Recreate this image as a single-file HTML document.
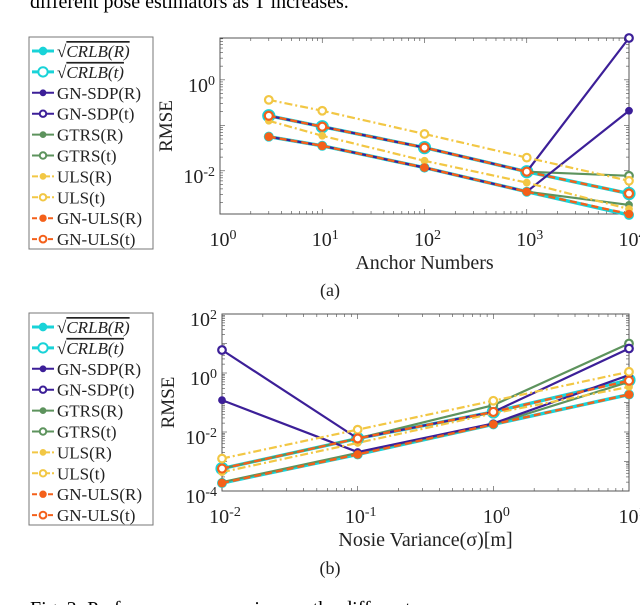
<!DOCTYPE html>
<html><head><meta charset="utf-8"><style>
body{margin:0;background:#fff;width:640px;height:605px;overflow:hidden;}
svg{display:block;font-family:"Liberation Serif",serif;}
</style></head><body>
<svg id="s" width="640" height="605" viewBox="0 0 640 605">
<text x="30" y="8" font-size="20">different pose estimators as T increases.</text>
<text x="30" y="615" font-size="20">Fig. 3: Performance comparison ... the different</text>
</svg>
<script>
const names = ["CRLB(R)","CRLB(t)","GN-SDP(R)","GN-SDP(t)","GTRS(R)","GTRS(t)","ULS(R)","ULS(t)","GN-ULS(R)","GN-ULS(t)"];
const xA = [3,10,100,1000,10000];
// exponents (log10 RMSE) for chart (a)
const aCRLBR=[-1.25,-1.45,-1.93,-2.46,-2.97];
const aCRLBt=[-0.79,-1.03,-1.49,-2.02,-2.50];
const aSDPR=[-1.25,-1.45,-1.93,-2.46,-0.68];
const aSDPt=[-0.79,-1.03,-1.49,-2.02,0.92];
const aGTRSR=[-1.25,-1.45,-1.93,-2.46,-2.75];
const aGTRSt=[-0.79,-1.03,-1.49,-2.02,-2.11];
const aULSR=[-0.90,-1.23,-1.78,-2.26,-2.84];
const aULSt=[-0.44,-0.68,-1.19,-1.71,-2.22];
const aGNULSR=[-1.25,-1.45,-1.93,-2.46,-2.95];
const aGNULSt=[-0.79,-1.03,-1.49,-2.02,-2.50];
const xB=[0.01,0.1,1,10];
const bCRLBR=[-3.73,-2.76,-1.74,-0.73];
const bCRLBt=[-3.24,-2.22,-1.32,-0.24];
const bSDPR=[-0.92,-2.68,-1.71,-0.07];
const bSDPt=[0.78,-2.22,-1.32,0.83];
const bGTRSR=[-3.70,-2.71,-1.74,-0.30];
const bGTRSt=[-3.24,-2.22,-1.09,1.0];
const bULSR=[-3.36,-2.37,-1.37,-0.47];
const bULSt=[-2.90,-1.92,-0.94,0.04];
const bGNULSR=[-3.73,-2.76,-1.74,-0.73];
const bGNULSt=[-3.24,-2.22,-1.32,-0.26];
const xTicksA=["0","1","2","3","4"];
const yTicksA=["-2","0"];
const xTicksB=["-2","-1","0","1"];
const yTicksB=["-4","-2","0","2"];

const NS="http://www.w3.org/2000/svg";
const svg=document.getElementById('s');
function el(t,a,p){const e=document.createElementNS(NS,t);for(const k in a)e.setAttribute(k,a[k]);(p||svg).appendChild(e);return e;}
const C={cy:"#19d3d8",pu:"#3c1f98",gr:"#5d935d",ye:"#f2c744",or:"#f4601a"};
const styles=[
 {c:C.cy,w:3.4,d:"",f:true,r:4.5},{c:C.cy,w:3.4,d:"",f:false,r:5.5},
 {c:C.pu,w:2.2,d:"",f:true,r:3.4},{c:C.pu,w:2.2,d:"",f:false,r:3.8},
 {c:C.gr,w:2.2,d:"",f:true,r:3.4},{c:C.gr,w:2.2,d:"",f:false,r:3.8},
 {c:C.ye,w:2.2,d:"8,3,2,3",f:true,r:3.4},{c:C.ye,w:2.2,d:"8,3,2,3",f:false,r:3.8},
 {c:C.or,w:2.4,d:"7,4",f:true,r:3.8},{c:C.or,w:2.4,d:"7,4",f:false,r:4}];
const order=[0,1,4,5,2,3,6,7,8,9];

function sup(g,x,y,base,exp,anchor,fs){
 const t=el('text',{x:x,y:y,'font-size':fs,'text-anchor':anchor,fill:'#222'},g);
 t.textContent=base;
 const ts=el('tspan',{dy:-7,'font-size':fs*0.7},t);ts.textContent=exp;
 return t;}

function chart(cfg){
 const g=el('g',{});
 
 
 const X=v=>cfg.x0+(Math.log10(v)-cfg.xmin)/(cfg.xmax-cfg.xmin)*(cfg.x1-cfg.x0);
 const Y=e=>cfg.y1-(e-cfg.ymin)/(cfg.ymax-cfg.ymin)*(cfg.y1-cfg.y0);
 for(let d=Math.floor(cfg.xmin);d<cfg.xmax;d++)for(let m=1;m<10;m++){const lx=d+Math.log10(m);if(lx<cfg.xmin||lx>cfg.xmax)continue;const px=X(Math.pow(10,lx));const L=m==1?5:3;
  el('line',{x1:px,x2:px,y1:cfg.y1,y2:cfg.y1-L,stroke:'#444','stroke-width':0.6},g);el('line',{x1:px,x2:px,y1:cfg.y0,y2:cfg.y0+L,stroke:'#444','stroke-width':0.6},g);}
 for(let d=Math.floor(cfg.ymin);d<cfg.ymax;d++)for(let m=1;m<10;m++){const ly=d+Math.log10(m);if(ly<cfg.ymin||ly>cfg.ymax)continue;const py=Y(ly);const L=m==1?5:3;
  el('line',{x1:cfg.x0,x2:cfg.x0+L,y1:py,y2:py,stroke:'#444','stroke-width':0.6},g);el('line',{x1:cfg.x1,x2:cfg.x1-L,y1:py,y2:py,stroke:'#444','stroke-width':0.6},g);}
 const fr=el('rect',{x:cfg.x0,y:cfg.y0,width:cfg.x1-cfg.x0,height:cfg.y1-cfg.y0,fill:'none',stroke:'#555','stroke-width':1},g);
 
 cfg.xt.forEach(e=>{const t=sup(g,X(Math.pow(10,+e))+3,cfg.y1+32,"10",e,'middle',20);
  });
 cfg.yt.forEach(e=>{const t=sup(g,cfg.x0-5,Y(+e)+12,"10",e,'end',20);
  });
 const xl=el('text',{x:(cfg.x0+cfg.x1)/2,y:cfg.y1+55,'font-size':20,'text-anchor':'middle',fill:'#222'},g);xl.textContent=cfg.xlabel;
 
 const yl=el('text',{x:0,y:0,'font-size':19,'text-anchor':'middle',fill:'#222',transform:`translate(${cfg.x0-48},${(cfg.y0+cfg.y1)/2}) rotate(-90)`},g);yl.textContent="RMSE";
 
 const cp=el('text',{x:330,y:cfg.capY,'font-size':18,'text-anchor':'middle',fill:'#222'},g);cp.textContent=cfg.cap;
 
 order.forEach(i=>{const s=styles[i];const ys=cfg.series[i];
  const pts=ys.map((e,k)=>X(cfg.xs[k])+','+Y(e)).join(' ');
  const pl=el('polyline',{points:pts,fill:'none',stroke:s.c,'stroke-width':s.w,'stroke-dasharray':s.d},g);
  
  
  ys.forEach((e,k)=>{const c=el('circle',{cx:X(cfg.xs[k]),cy:Y(e),r:s.r,fill:s.f?s.c:'#fff',stroke:s.c,'stroke-width':s.f?1:2.2},g);
   });});
 const lg=el('g',{},svg);
 
 el('rect',{x:29,y:cfg.ly,width:124,height:212,fill:'#fff',stroke:'#777','stroke-width':1},lg);
 names.forEach((n,i)=>{const s=styles[i];const y=cfg.ly+14+i*20.9;
  const e=el('g',{},lg);
  el('line',{x1:32,x2:54,y1:y,y2:y,stroke:s.c,'stroke-width':s.w>3?3:2,'stroke-dasharray':s.d?(s.d=="7,4"?"5,3":"6,2,2,2"):""},e);
  el('circle',{cx:43,cy:y,r:s.r*0.85,fill:s.f?s.c:'#fff',stroke:s.c,'stroke-width':s.f?1:2},e);
  const t=el('text',{x:57,y:y+6,'font-size':17,fill:'#222'},e);
  if(i<2){t.textContent="\u221A";const it=el('tspan',{'font-style':'italic','text-decoration':'overline'},t);it.textContent=n;}
  else t.textContent=n;});
}
chart({name:'chart-a-anchor-numbers',x0:220,x1:629,y0:38,y1:214,xmin:0,xmax:4,ymin:-2.95,ymax:0.92,xs:xA,
 series:[aCRLBR,aCRLBt,aSDPR,aSDPt,aGTRSR,aGTRSt,aULSR,aULSt,aGNULSR,aGNULSt],xt:xTicksA,yt:yTicksA,
 xlabel:"Anchor Numbers",cap:"(a)",capY:296,ly:37});
chart({name:'chart-b-noise-variance',x0:222,x1:629,y0:314,y1:491,xmin:-2,xmax:1,ymin:-4,ymax:2,xs:xB,
 series:[bCRLBR,bCRLBt,bSDPR,bSDPt,bGTRSR,bGTRSt,bULSR,bULSt,bGNULSR,bGNULSt],xt:xTicksB,yt:yTicksB,
 xlabel:"Nosie Variance(\u03C3)[m]",cap:"(b)",capY:574,ly:313});
</script>
</body></html>
